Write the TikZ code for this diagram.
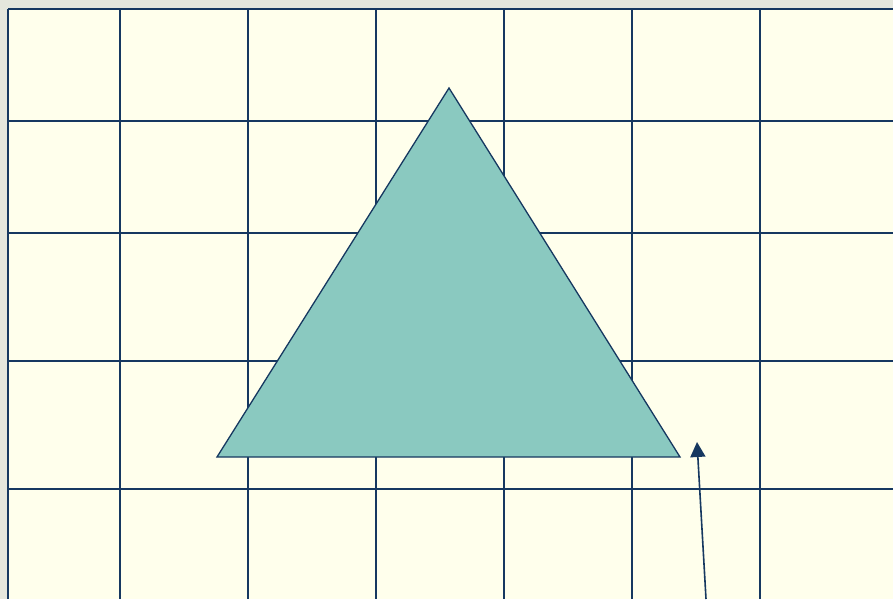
\documentclass[tikz,border=0pt]{standalone}
\usepackage{tikz}
\usetikzlibrary{arrows.meta}
\usepackage{xcolor}
\definecolor{gridnavy}{RGB}{22,56,96}
\definecolor{paper}{RGB}{255,255,236}
\definecolor{texture}{RGB}{229,231,221}
\definecolor{tealfill}{RGB}{138,201,192}

\begin{document}
\begin{tikzpicture}[x=1pt, y=-1pt, gridline/.style={gridnavy, line width=1.6pt}]
  \fill[texture] (0,0) rectangle (893,599);
  \useasboundingbox (0,0) rectangle (893,599);
  % sheet with grid
  \fill[paper] (8,9) rectangle (893,599);
  \foreach \gx in {8,120,248,376,504,632,760}
    \draw[gridline] (\gx,9) -- (\gx,599);
  \foreach \gy in {9,121,233,361,489}
    \draw[gridline] (8,\gy) -- (893,\gy);
  % triangle
  \draw[fill=tealfill, draw=gridnavy, line width=1.3pt, line join=miter]
    (449,88) -- (680,457) -- (217,457) -- cycle;
  % pointer
  \coordinate (tail) at (706,599);
  \coordinate (tip) at (697,442);
  \draw[gridline, -{Triangle[length=15pt,width=15pt]}] (tail) -- (tip);
\end{tikzpicture}
\end{document}
